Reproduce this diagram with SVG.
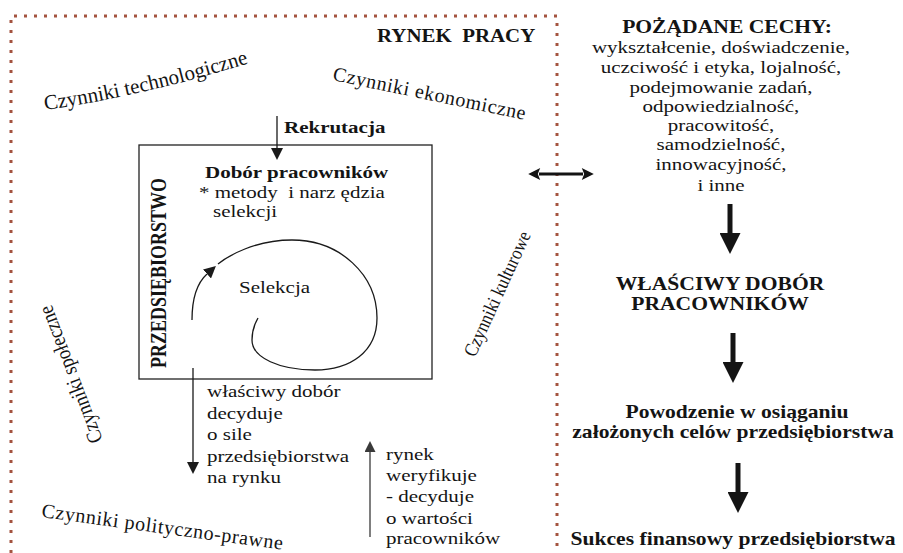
<svg xmlns="http://www.w3.org/2000/svg" width="903" height="553" viewBox="0 0 903 553">
<style>
text{font-family:"Liberation Serif","Times New Roman",serif;fill:#141414;}
.t{font-size:17.5px;}
.b{font-size:17.5px;font-weight:bold;}
.rb{font-size:18px;font-weight:bold;}
.f{font-size:20px;}
.thin{fill:none;stroke:#1a1a1a;stroke-width:1.3;}
.thick{fill:none;stroke:#141414;stroke-width:5;}
.curve{fill:none;stroke:#1a1a1a;stroke-width:1.3;}
</style>
<defs>
<marker id="ah" viewBox="0 0 10 10" refX="0" refY="5" markerWidth="12" markerHeight="12" markerUnits="userSpaceOnUse" orient="auto-start-reverse"><path d="M0,0 L10,5 L0,10 z" fill="#1a1a1a"/></marker>
<marker id="ahd" viewBox="0 0 10 10" refX="1" refY="5" markerWidth="13" markerHeight="12" markerUnits="userSpaceOnUse" orient="auto-start-reverse"><path d="M0,0 L10,5 L0,10 L2,5 z" fill="#141414"/></marker>
<marker id="ahg" viewBox="0 0 10 10" refX="0" refY="5" markerWidth="12" markerHeight="11" markerUnits="userSpaceOnUse" orient="auto"><path d="M0,0 L10,5 L0,10 z" fill="#3a3a3a"/></marker>
<marker id="ahb" viewBox="0 0 10 10" refX="0" refY="5" markerWidth="22" markerHeight="21" markerUnits="userSpaceOnUse" orient="auto"><path d="M0,0 L10,5 L0,10 z" fill="#141414"/></marker>
<path id="p-tech" d="M45,110 Q150,95 265,58"/>
</defs>

<!-- market border -->
<g id="rynek-pracy">
<path d="M11,553 V16 H557 V553" fill="none" stroke="#a45440" stroke-width="3" stroke-dasharray="3 7"/>
<g transform="translate(377,42) scale(1.1,1)"><text x="0" y="0" xml:space="preserve" style="font-size:19px;font-weight:bold;white-space:pre">RYNEK  PRACY</text></g>
</g>

<g id="czynniki">
<text style="font-size:21px"><textPath href="#p-tech">Czynniki technologiczne</textPath></text>
<text class="f" transform="translate(332,80) rotate(11.7)" letter-spacing="0.6">Czynniki ekonomiczne</text>
<text class="f" transform="translate(41,517) rotate(7.7)" letter-spacing="0.6">Czynniki polityczno-prawne</text>
<text transform="translate(103,440) rotate(-110.8) scale(1,1.15)" style="font-size:18.5px">Czynniki społeczne</text>
<text transform="translate(475,358) rotate(-65.5) scale(1,1.15)" style="font-size:17px">Czynniki kulturowe</text>
</g>

<g id="przedsiebiorstwo">
<rect x="139" y="145" width="293" height="234" fill="none" stroke="#222" stroke-width="1.3"/>
<text transform="translate(166,368) rotate(-90) scale(1,1.25)" style="font-size:18px;font-weight:bold">PRZEDSIĘBIORSTWO</text>
</g>

<g id="rekrutacja">
<g transform="translate(284,133) scale(1.2,1)"><text class="b" x="0" y="0">Rekrutacja</text></g>
</g>

<g id="dobor">
<g transform="translate(205,0) scale(1.2,1)"><text class="b" x="0" y="178">Dobór pracowników</text></g>
<g transform="translate(199,0) scale(1.2,1)"><text class="t" x="0" y="198" xml:space="preserve" style="white-space:pre">* metody  i narz ędzia</text></g>
<g transform="translate(213,0) scale(1.2,1)"><text class="t" x="0" y="217">selekcji</text></g>
</g>

<g id="selekcja">
<g transform="translate(239,0) scale(1.2,1)"><text class="t" x="0" y="293">Selekcja</text></g>
</g>

<g id="wlasciwy-dobor-opis">
<g transform="translate(207,0) scale(1.2,1)">
<text class="t" x="0" y="397">właściwy dobór</text>
<text class="t" x="0" y="419">decyduje</text>
<text class="t" x="0" y="440">o sile</text>
<text class="t" x="0" y="462">przedsiębiorstwa</text>
<text class="t" x="0" y="483">na rynku</text>
</g>
</g>

<g id="rynek-weryfikuje">
<g transform="translate(386,0) scale(1.2,1)">
<text class="t" x="0" y="460">rynek</text>
<text class="t" x="0" y="481">weryfikuje</text>
<text class="t" x="0" y="502">- decyduje</text>
<text class="t" x="0" y="524">o wartości</text>
<text class="t" x="0" y="544">pracowników</text>
</g>
</g>

<g id="pozadane-cechy">
<g transform="translate(727,0) scale(1.2,1)"><text class="rb" x="0" y="33" text-anchor="middle">POŻĄDANE CECHY:</text></g>
<g transform="translate(721,0) scale(1.2,1)">
<text class="t" x="0" y="53" text-anchor="middle">wykształcenie, doświadczenie,</text>
<text class="t" x="0" y="73" text-anchor="middle">uczciwość i etyka, lojalność,</text>
<text class="t" x="0" y="93" text-anchor="middle">podejmowanie zadań,</text>
<text class="t" x="0" y="112" text-anchor="middle">odpowiedzialność,</text>
<text class="t" x="0" y="131" text-anchor="middle">pracowitość,</text>
<text class="t" x="0" y="150" text-anchor="middle">samodzielność,</text>
<text class="t" x="0" y="170" text-anchor="middle">innowacyjność,</text>
<text class="t" x="0" y="191" text-anchor="middle">i inne</text>
</g>
</g>

<g id="wlasciwy-dobor">
<g transform="translate(720,0) scale(1.2,1)">
<text class="rb" x="0" y="290" text-anchor="middle">WŁAŚCIWY DOBÓR</text>
<text class="rb" x="0" y="310" text-anchor="middle">PRACOWNIKÓW</text>
</g>
</g>

<g id="powodzenie">
<g transform="translate(737,0) scale(1.2,1)"><text class="rb" x="0" y="418" text-anchor="middle">Powodzenie w osiąganiu</text></g>
<g transform="translate(733,0) scale(1.2,1)"><text class="rb" x="0" y="438" text-anchor="middle">założonych celów przedsiębiorstwa</text></g>
</g>

<g id="sukces">
<g transform="translate(733,0) scale(1.2,1)"><text class="rb" x="0" y="545" text-anchor="middle">Sukces finansowy przedsiębiorstwa</text></g>
</g>

<g id="connectors">
<line class="thin" x1="277" y1="116" x2="277" y2="148" marker-end="url(#ah)"/>
<path class="curve" d="M192,320 C192,300 197,283 207,274" marker-end="url(#ah)"/>
<path class="curve" d="M218,264 C228,256 255,240 292,240 C340,240 377,275 377,318 C377,352 350,370 315,370 C280,370 252,358 252,340 C252,332 254,325 258,318"/>
<line class="thin" x1="193" y1="368" x2="193" y2="462" marker-end="url(#ah)"/>
<line x1="370" y1="537" x2="370" y2="452" stroke="#3a3a3a" stroke-width="1.3" marker-end="url(#ahg)"/>
<line x1="539" y1="174" x2="583" y2="174" stroke="#141414" stroke-width="3" marker-start="url(#ahd)" marker-end="url(#ahd)"/>
<line class="thick" x1="730" y1="204" x2="730" y2="233" marker-end="url(#ahb)"/>
<line class="thick" x1="733" y1="333" x2="733" y2="362" marker-end="url(#ahb)"/>
<line class="thick" x1="738" y1="463" x2="738" y2="492" marker-end="url(#ahb)"/>
</g>
</svg>
